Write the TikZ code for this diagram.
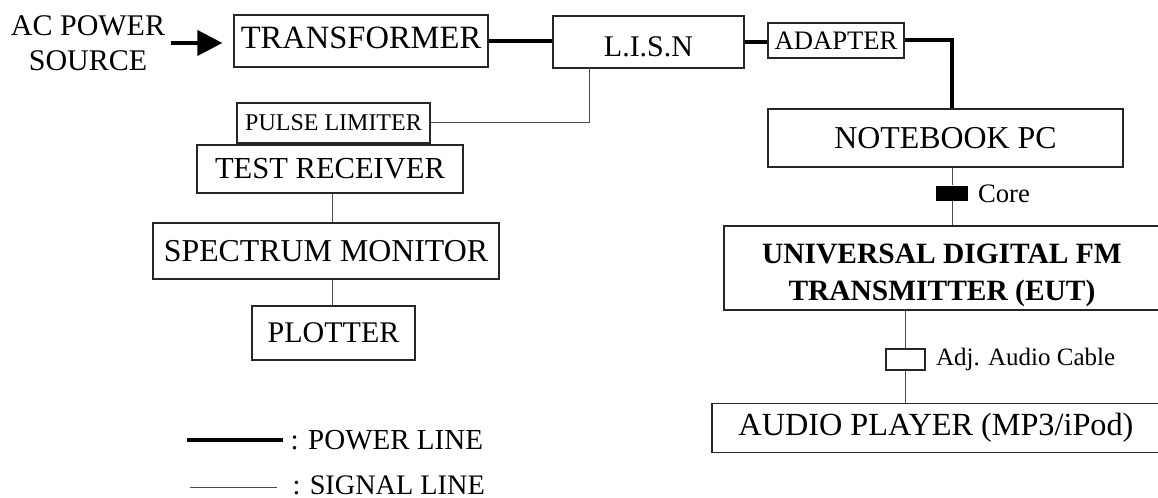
\documentclass[tikz,border=0pt]{standalone}
\usepackage{fontspec}
\setmainfont{Liberation Serif}
\usetikzlibrary{arrows.meta,positioning}

\tikzset{every picture/.style={line width=0.75pt}}
\tikzset{
  blk/.style={draw=black!85, line width=0.9pt, inner sep=0pt, align=center,
    font=\fontsize{22.5}{27}\selectfont},
  power/.style={line width=3pt},
  signal/.style={line width=0.75pt, draw=black!70},
  lbl/.style={inner sep=0pt}
}

\begin{document}
\begin{tikzpicture}[x=0.75pt,y=0.75pt,yscale=-1,xscale=1]
	\useasboundingbox (0,0) rectangle (1158,498);
	\clip (0,0) rectangle (1158,498);

	%Shape: Rectangle [id:trans]
	\node[blk, minimum width=190.5pt, minimum height=39pt, font=\fontsize{24.4}{29}\selectfont, text height=16.2pt, text depth=5.25pt] (trans) at (361,41) {TRANSFORMER};
	%Shape: Rectangle [id:lisn]
	\node[blk, minimum width=143.25pt, minimum height=39pt, text height=22.4pt, text depth=0pt] (lisn) at (648.5,42) {L.I.S.N};
	%Shape: Rectangle [id:adapter]
	\node[blk, minimum width=102pt, minimum height=26.25pt, font=\fontsize{20}{24}\selectfont] (adapter) at (836,40.5) {ADAPTER};
	%Shape: Rectangle [id:notebook]
	\node[blk, minimum width=266.25pt, minimum height=43.5pt, font=\fontsize{23.9}{28}\selectfont] (notebook) at (945.5,138) {NOTEBOOK PC};
	%Shape: Rectangle [id:pulse]
	\node[blk, minimum width=144.75pt, minimum height=30pt, font=\fontsize{18}{21}\selectfont] (pulse) at (333.5,123) {PULSE LIMITER};
	%Shape: Rectangle [id:testrx]
	\node[blk, minimum width=199.5pt, minimum height=36pt, font=\fontsize{22.9}{27}\selectfont] (testrx) at (330,169) {TEST RECEIVER};
	%Shape: Rectangle [id:spectrum]
	\node[blk, minimum width=259.5pt, minimum height=42pt, font=\fontsize{23.9}{28}\selectfont] (spectrum) at (326,251) {SPECTRUM MONITOR};
	%Shape: Rectangle [id:plotter]
	\node[blk, minimum width=122.25pt, minimum height=40.5pt] (plotter) at (333.5,333) {PLOTTER};
	%Shape: Rectangle [id:eut]
	\node[blk, minimum width=327pt, minimum height=63pt] (eut) at (942,268) {};
	%Shape: Rectangle [id:adj]
	\node[blk, minimum width=29.25pt, minimum height=15.75pt] (adj) at (905.5,359.5) {};
	%Shape: Rectangle [id:player]
	\node[blk, minimum width=336pt, minimum height=36.75pt, font=\fontsize{24.2}{29}\selectfont] (player) at (936,428) {AUDIO PLAYER (MP3/iPod)};

	% Text Node
	\node[lbl, align=center, font=\fontsize{22.1}{27.75}\selectfont\bfseries] (euttxt) at (942,275.5) {UNIVERSAL DIGITAL FM\\TRANSMITTER (EUT)};
	% Text Node
	\node[lbl, align=center, font=\fontsize{22.5}{26.25}\selectfont] (acsrc) at (88,43) {AC POWER\\SOURCE};
	% Text Node
	\coordinate (tap) at (589,68);

	%Straight Lines [id:power]
	\draw[power, -{Triangle[length=18.75pt,width=18.75pt]}, shorten <=3.75pt, shorten >=8.25pt] (acsrc.east) -- (acsrc.east -| trans.west);
	\draw[power] (trans.east) -- (trans.east -| lisn.west);
	\draw[power] (lisn.east) -- (lisn.east -| adapter.west);

	%Shape: Rectangle [id:core]
	\node[fill=black, inner sep=0pt, minimum width=24pt, minimum height=11.25pt] (core) at (952,193.5) {};
	\draw[power] (adapter.east) -| (core |- notebook.north);

	%Straight Lines [id:signal]
	\draw[signal] (pulse.east) -| (tap);
	\draw[signal] (testrx.south -| 332,0) -- (spectrum.north -| 332,0);
	\draw[signal] (spectrum.south -| 332,0) -- (plotter.north -| 332,0);
	\draw[signal] (core |- notebook.south) -- (core.north);
	\draw[signal] (core.south) -- (core |- eut.north);
	\draw[signal] (adj |- eut.south) -- (adj.north);
	\draw[signal] (adj.south) -- (adj |- player.north);

	% Text Node
	\node[lbl, right=6.75pt of core, font=\fontsize{20}{24}\selectfont] (corelbl) {Core};
	% Text Node
	\node[lbl, right=7.5pt of adj, font=\fontsize{18.75}{22}\selectfont] (adjlbl) {Adj. Audio Cable};

	% Legend
	\node[lbl, anchor=west, font=\fontsize{21.75}{26}\selectfont] (pwrkey) at (290,440) {: POWER LINE};
	\node[lbl, anchor=west, font=\fontsize{21.2}{25}\selectfont] (sigkey) at (292,485) {: SIGNAL LINE};
	\coordinate (pwr0) at (187,440);
	\coordinate (sig0) at (190,488);
	\draw[power] (pwr0) -- ([xshift=-5.25pt]pwrkey.west |- pwr0);
	\draw[signal] (sig0) -- ([xshift=-11.25pt]sigkey.west |- sig0);

\end{tikzpicture}
\end{document}
